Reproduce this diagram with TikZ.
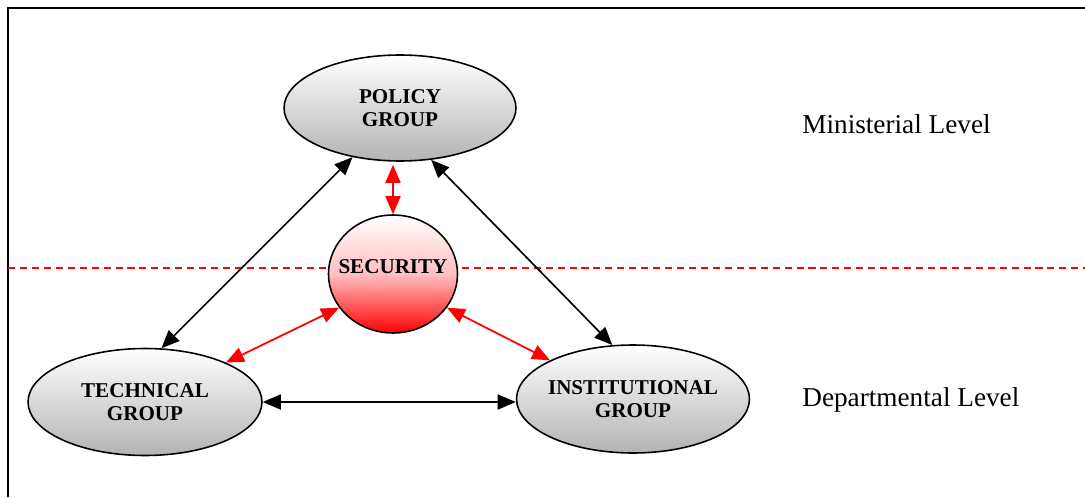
\documentclass[tikz,border=0pt]{standalone}
\usepackage{fontspec}
\setmainfont{Liberation Serif}
\usetikzlibrary{arrows.meta,shapes.geometric}
\definecolor{secc}{HTML}{FF0000}
\definecolor{shadec}{HTML}{B3B3B3}
\tikzset{
  ar/.style={{Triangle[length=3.6mm,width=3mm]}-{Triangle[length=3.6mm,width=3mm]},line width=0.95pt,black},
  rar/.style={ar,secc,line width=1pt},
  grp/.style={ellipse,draw,line width=0.9pt,top color=white,bottom color=shadec,inner xsep=-12pt,inner ysep=0pt,align=center,font=\fontsize{12}{13}\selectfont\bfseries},
  lvl/.style={anchor=base west,inner sep=0pt,font=\fontsize{15.5}{18}\selectfont}
}
\begin{document}
\begin{tikzpicture}[x=0.02cm,y=-0.02cm]
\useasboundingbox (0,0) rectangle (1085,497);
\draw[line width=0.9pt] (8,497) -- (8,8) -- (1085,8);
\draw[secc,line width=0.85pt,dash pattern=on 4pt off 2.8pt] (8,268) -- (1085,268);
% groups
\node[grp,minimum width=4.64cm,minimum height=2.12cm] (policy) at (400,108) {POLICY\\GROUP};
\node[grp,minimum width=4.68cm,minimum height=2.14cm] (tech) at (145,402) {TECHNICAL\\GROUP};
\node[grp,minimum width=4.66cm,minimum height=2.16cm] (inst) at (633,399) {INSTITUTIONAL\\GROUP};
\node[ellipse,draw,line width=0.9pt,top color=white,bottom color=secc,middle color=secc!25!white,minimum width=2.58cm,minimum height=2.36cm,inner xsep=-6pt,inner ysep=0pt,text depth=9pt,font=\fontsize{12}{13}\selectfont\bfseries] (sec) at (393,274) {SECURITY};
% levels
\node[lvl] (minlvl) at (802,133) {Ministerial Level};
\node[lvl] (deplvl) at (802,406) {Departmental Level};
% links
\draw[ar] (policy.226) -- (tech.73);
\draw[ar] (policy.301) -- (inst.111);
\draw[ar] (tech.east) -- (tech.east -| inst.west);
\draw[rar,shorten >=1.7pt] (sec.north) -- (sec.north |- policy.south);
\draw[rar] (sec.212) -- (tech.26);
\draw[rar] (sec.328) -- (inst.155);
\end{tikzpicture}
\end{document}
